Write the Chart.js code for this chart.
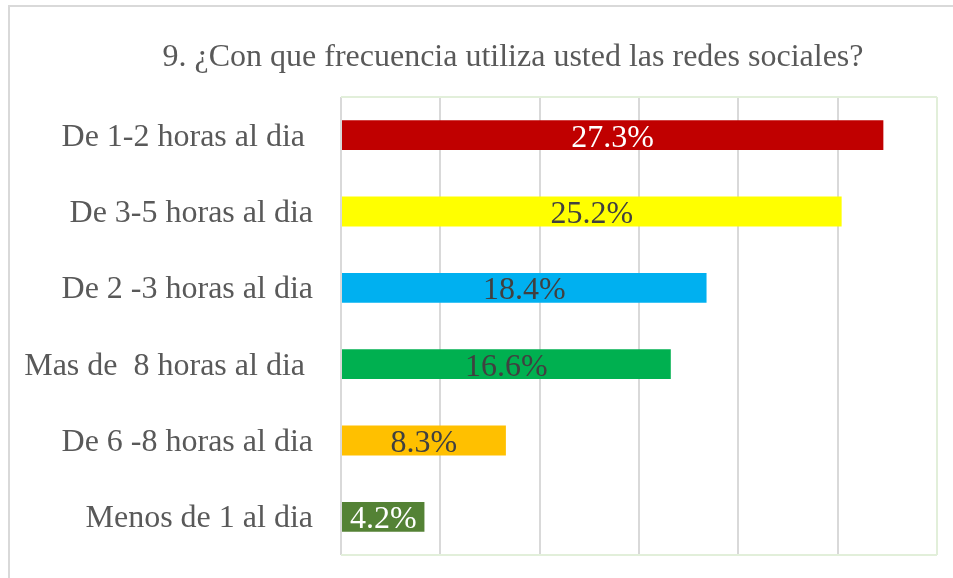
<!DOCTYPE html>
<html>
<head>
<meta charset="utf-8">
<script src="https://cdn.jsdelivr.net/npm/chart.js@4.4.1/dist/chart.umd.min.js"></script>
<style>
  body { margin: 0; background: #fff; }
  #frame {
    position: absolute; left: 8px; top: 5px; width: 945px; height: 573px;
    border-top: 2px solid #d9d9d9; border-left: 2px solid #d9d9d9;
  }
  #wrap { position: absolute; left: 0; top: 0; width: 953px; height: 578px; }
</style>
</head>
<body>
<div id="frame"></div>
<div id="wrap"><canvas id="chart" width="953" height="578"></canvas></div>
<script>
const title = "9. ¿Con que frecuencia utiliza usted las redes sociales?";
const categories = [
  "De 1-2 horas al dia ",
  "De 3-5 horas al dia",
  "De 2 -3 horas al dia",
  "Mas de  8 horas al dia ",
  "De 6 -8 horas al dia",
  "Menos de 1 al dia",
];
const percents = [27.3, 25.2, 18.4, 16.6, 8.3, 4.2];
const barColors = ["#c00000", "#ffff00", "#00b0f0", "#00b050", "#ffc000", "#548235"];
const labelColors = ["#ffffff", "#404040", "#404040", "#404040", "#404040", "#ffffff"];
const xMax = 30;
const xStep = 5;

const font = "'Liberation Serif', 'Times New Roman', serif";
const gridGray = "#d9d9d9";
const frameGreen = "#e2efda";

// title is not centred on the canvas in the original, so draw it here
const titlePlugin = {
  id: "titlePlugin",
  afterDraw(chart) {
    const { ctx } = chart;
    ctx.save();
    ctx.font = `32px ${font}`;
    ctx.fillStyle = "#595959";
    ctx.textAlign = "center";
    ctx.textBaseline = "middle";
    ctx.fillText(title, 513, 58);
    ctx.restore();
  },
};

// top/bottom edges of the plot area
const plotFrame = {
  id: "plotFrame",
  afterDraw(chart) {
    const { ctx, chartArea: a } = chart;
    ctx.save();
    ctx.strokeStyle = frameGreen;
    ctx.lineWidth = 2;
    ctx.beginPath();
    ctx.moveTo(a.left, a.top);
    ctx.lineTo(a.right, a.top);
    ctx.moveTo(a.left, a.bottom);
    ctx.lineTo(a.right, a.bottom);
    ctx.stroke();
    ctx.restore();
  },
};

// value labels centred in each bar
const barLabels = {
  id: "barLabels",
  afterDatasetsDraw(chart) {
    const { ctx } = chart;
    const meta = chart.getDatasetMeta(0);
    ctx.save();
    ctx.font = `32px ${font}`;
    ctx.textAlign = "center";
    ctx.textBaseline = "middle";
    meta.data.forEach((bar, i) => {
      const p = bar.getProps(["x", "y", "base"], true);
      ctx.fillStyle = labelColors[i];
      ctx.fillText(percents[i].toFixed(1) + "%", (p.x + p.base) / 2, p.y + 3);
    });
    ctx.restore();
  },
};

new Chart(document.getElementById("chart"), {
  type: "bar",
  data: {
    labels: categories,
    datasets: [{ data: percents, backgroundColor: barColors }],
  },
  plugins: [titlePlugin, plotFrame, barLabels],
  options: {
    indexAxis: "y",
    responsive: false,
    animation: false,
    layout: { padding: { left: 0, right: 16, top: 97, bottom: 23 } },
    categoryPercentage: 1,
    barPercentage: 0.39,
    plugins: {
      legend: { display: false },
      tooltip: { enabled: false },
      title: { display: false },
    },
    scales: {
      x: {
        min: 0,
        max: xMax,
        ticks: { display: false, stepSize: xStep },
        border: { display: false },
        grid: {
          color: (c) => (c.tick && c.tick.value === xMax ? frameGreen : gridGray),
          lineWidth: 2,
          drawTicks: false,
        },
        afterFit(scale) {
          scale.height = 0;
          scale.paddingLeft = scale.paddingRight = 0;
        },
      },
      y: {
        border: { display: false },
        grid: { display: false, drawTicks: false },
        ticks: {
          color: "#595959",
          padding: 28,
          labelOffset: 2,
          font: { family: font, size: 32 },
        },
        afterFit(scale) {
          scale.width = 341;
          scale.paddingTop = scale.paddingBottom = 0;
        },
      },
    },
  },
});
</script>
</body>
</html>
